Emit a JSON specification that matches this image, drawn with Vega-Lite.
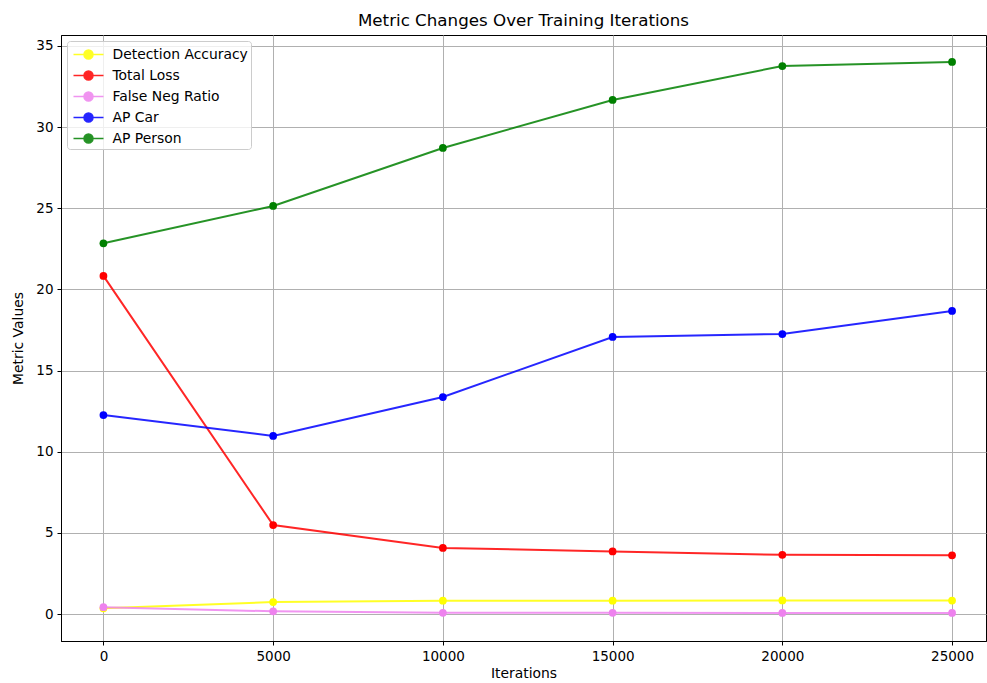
{
  "$schema": "https://vega.github.io/schema/vega-lite/v6.json",
  "autosize": {"type": "none"},
  "width": 925,
  "height": 606,
  "padding": {"left": 61, "top": 35, "right": 1, "bottom": 42},
  "background": "white",
  "title": {"text": "Metric Changes Over Training Iterations", "font": "DejaVu Sans", "fontSize": 16.7, "fontWeight": "normal", "color": "black", "offset": 5, "anchor": "middle"},
  "config": {
    "view": {"stroke": "black", "strokeWidth": 1},
    "axis": {"labelFont": "DejaVu Sans", "titleFont": "DejaVu Sans", "labelFontSize": 13.5, "titleFontSize": 13.9, "titleFontWeight": "normal", "labelColor": "black", "titleColor": "black", "gridColor": "#b0b0b0", "gridWidth": 1, "gridOpacity": 1, "domainColor": "black", "tickColor": "black", "tickSize": 4, "labelPadding": 4},
    "legend": {"labelFont": "DejaVu Sans", "labelFontSize": 13.9, "labelColor": "black"}
  },
  "data": {"values": [
    {"iter": 0, "metric": "Detection Accuracy", "value": 0.35},
    {"iter": 5000, "metric": "Detection Accuracy", "value": 0.74},
    {"iter": 10000, "metric": "Detection Accuracy", "value": 0.82},
    {"iter": 15000, "metric": "Detection Accuracy", "value": 0.82},
    {"iter": 20000, "metric": "Detection Accuracy", "value": 0.84},
    {"iter": 25000, "metric": "Detection Accuracy", "value": 0.83},
    {"iter": 0, "metric": "Total Loss", "value": 20.83},
    {"iter": 5000, "metric": "Total Loss", "value": 5.48},
    {"iter": 10000, "metric": "Total Loss", "value": 4.07},
    {"iter": 15000, "metric": "Total Loss", "value": 3.86},
    {"iter": 20000, "metric": "Total Loss", "value": 3.65},
    {"iter": 25000, "metric": "Total Loss", "value": 3.62},
    {"iter": 0, "metric": "False Neg Ratio", "value": 0.42},
    {"iter": 5000, "metric": "False Neg Ratio", "value": 0.17},
    {"iter": 10000, "metric": "False Neg Ratio", "value": 0.08},
    {"iter": 15000, "metric": "False Neg Ratio", "value": 0.08},
    {"iter": 20000, "metric": "False Neg Ratio", "value": 0.07},
    {"iter": 25000, "metric": "False Neg Ratio", "value": 0.07},
    {"iter": 0, "metric": "AP Car", "value": 12.26},
    {"iter": 5000, "metric": "AP Car", "value": 10.97},
    {"iter": 10000, "metric": "AP Car", "value": 13.37},
    {"iter": 15000, "metric": "AP Car", "value": 17.07},
    {"iter": 20000, "metric": "AP Car", "value": 17.25},
    {"iter": 25000, "metric": "AP Car", "value": 18.67},
    {"iter": 0, "metric": "AP Person", "value": 22.84},
    {"iter": 5000, "metric": "AP Person", "value": 25.14},
    {"iter": 10000, "metric": "AP Person", "value": 28.71},
    {"iter": 15000, "metric": "AP Person", "value": 31.67},
    {"iter": 20000, "metric": "AP Person", "value": 33.76},
    {"iter": 25000, "metric": "AP Person", "value": 34.01}
  ]},
  "encoding": {
    "x": {"field": "iter", "type": "quantitative", "title": "Iterations",
          "scale": {"domain": [-1250, 26000], "nice": false, "zero": false},
          "axis": {"values": [0, 5000, 10000, 15000, 20000, 25000], "format": "d", "titlePadding": 4}},
    "y": {"field": "value", "type": "quantitative", "title": "Metric Values",
          "scale": {"domain": [-1.66, 35.67], "nice": false, "zero": false},
          "axis": {"values": [0, 5, 10, 15, 20, 25, 30, 35], "titlePadding": 10}},
    "color": {"field": "metric", "type": "nominal",
              "scale": {"domain": ["Detection Accuracy", "Total Loss", "False Neg Ratio", "AP Car", "AP Person"],
                        "range": ["#ffff00", "#ff0000", "#ee82ee", "#0000ff", "#008000"]},
              "legend": {"title": null, "orient": "top-left", "offset": 6,
                         "symbolType": "M-1.5,0L1.5,0M-0.45,0A0.45,0.45,0,1,1,0.45,0A0.45,0.45,0,1,1,-0.45,0Z",
                         "symbolSize": 400, "symbolStrokeWidth": 1.5, "symbolOffset": 8, "labelOffset": 13,
                         "rowPadding": 2, "padding": 2.5,
                         "fillColor": "rgba(255,255,255,0.8)", "strokeColor": "#cccccc", "cornerRadius": 3,
                         "encode": {"symbols": {"update": {"fill": {"scale": "color", "field": "value"}, "stroke": {"scale": "color", "field": "value"}, "opacity": {"value": 1}}}}}}
  },
  "layer": [
    {"mark": {"type": "line", "strokeWidth": 2, "opacity": 0.85}},
    {"mark": {"type": "point", "filled": true, "size": 60, "opacity": 1}}
  ]
}
